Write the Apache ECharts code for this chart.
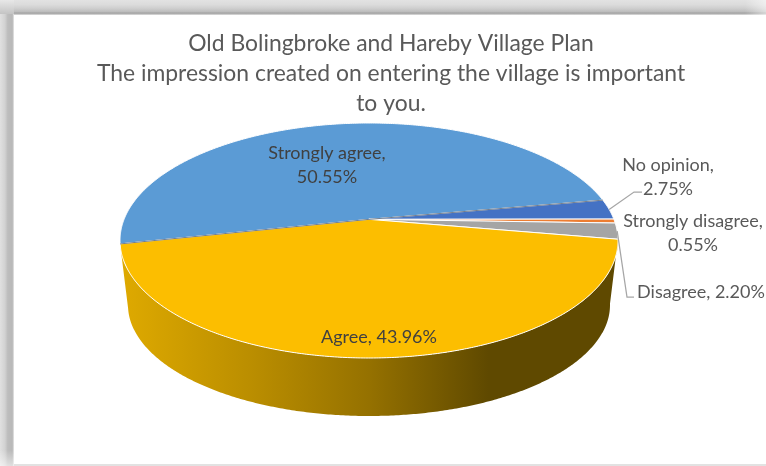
<!DOCTYPE html>
<html>
<head>
<meta charset="utf-8">
<style>
  html, body { margin: 0; padding: 0; background: #fff; }
  #chart { width: 766px; height: 466px; }
</style>
<script src="https://cdn.jsdelivr.net/npm/echarts@6/dist/echarts.min.js"></script>
</head>
<body>
<div id="chart"></div>
<script>
// ── Data ─────────────────────────────────────────────────────
const categories = ['Strongly agree', 'No opinion', 'Strongly disagree', 'Disagree', 'Agree'];
const shares     = [50.55, 2.75, 0.55, 2.20, 43.96];
const titleLines = [
  'Old Bolingbroke and Hareby Village Plan',
  'The impression created on entering the village is important',
  'to you.',
];

// ── Look ─────────────────────────────────────────────────────
const sliceColors = ['#5b9bd5', '#4472c4', '#ed7d31', '#a5a5a5', '#fcbe00'];
const FONT = 'Lato, "Open Sans", sans-serif';

// tilted disc: perspective maps the true centre above the ellipse centre
const TOP    = { cx: 369, cy: 240.5, rx: 249, ry: 117.5 };
const BOTTOM = { cx: 369, cy: 305,   rx: 241, ry: 111 };
const SKEW = 0.18;
const START_DEG = 258;   // clockwise from 12 o'clock

// label placement by category
const labelLayout = {
  'Strongly agree':    { x: 327, y: 165, wrap: true,  fill: '#404040' },
  'No opinion':        { x: 668, y: 177, wrap: true,  fill: '#595959' },
  'Strongly disagree': { x: 693, y: 233, wrap: true,  fill: '#595959' },
  'Disagree':          { x: 701, y: 292, wrap: false, fill: '#595959' },
  'Agree':             { x: 379, y: 337, wrap: false, fill: '#404040' },
};
const leaderElbows = {
  'No opinion': [[634, 192], [642, 192]],
  'Disagree':   [[627, 297], [634, 297]],
};

// ── Geometry helpers ─────────────────────────────────────────
function rimPoint(ell, deg) {
  const a = deg * Math.PI / 180;
  const X = Math.sin(a), Y = -Math.cos(a);
  const den = 1 - SKEW * Y;
  return [
    ell.cx + ell.rx * X * Math.sqrt(1 - SKEW * SKEW) / den,
    ell.cy + ell.ry * (Y - SKEW) / den,
  ];
}

function apex(ell) {
  return [ell.cx, ell.cy - ell.ry * SKEW];
}

function arcPoints(ell, from, to) {
  const pts = [];
  const steps = Math.max(4, Math.ceil((to - from) * 2));
  for (let i = 0; i <= steps; i++) pts.push(rimPoint(ell, from + (to - from) * i / steps));
  return pts;
}

const total = shares.reduce((a, b) => a + b, 0);

function sliceRange(idx) {
  let before = 0;
  for (let i = 0; i < idx; i++) before += shares[i];
  return [START_DEG + before / total * 360, START_DEG + (before + shares[idx]) / total * 360];
}

// ── Slice renderer ───────────────────────────────────────────
function renderSlice(params, api) {
  const idx = params.dataIndex;
  const value = api.value(1);
  const name = categories[idx];
  const [from, to] = sliceRange(idx);
  const layout = labelLayout[name];
  const children = [];
  const c = apex(TOP);

  // the side wall only shows under the slice facing the viewer
  if (from < 540 && to > 540) {
    children.push({
      type: 'polygon',
      shape: { points: arcPoints(TOP, from, to).concat(arcPoints(BOTTOM, from, to).reverse()) },
      style: {
        fill: new echarts.graphic.LinearGradient(0, 0, 1, 0, [
          { offset: 0,    color: '#dfaa00' },
          { offset: 0.28, color: '#b88c00' },
          { offset: 0.5,  color: '#957100' },
          { offset: 0.74, color: '#5f4900' },
          { offset: 1,    color: '#5f4900' },
        ]),
      },
    });
  }

  children.push({
    type: 'polygon',
    shape: { points: [c].concat(arcPoints(TOP, from, to)) },
    style: { fill: sliceColors[idx], stroke: '#fff', lineWidth: 1, lineJoin: 'round' },
  });

  // dark hairline along both edges of the largest slice
  if (value === Math.max(...shares)) {
    [from, to].forEach(deg => {
      children.push({
        type: 'line',
        shape: { x1: c[0], y1: c[1], x2: rimPoint(TOP, deg)[0], y2: rimPoint(TOP, deg)[1] },
        style: { stroke: 'rgba(68,84,106,0.75)', lineWidth: 1 },
        z2: 5,
      });
    });
  }

  if (leaderElbows[name]) {
    children.push({
      type: 'polyline',
      shape: { points: [rimPoint(TOP, (from + to) / 2)].concat(leaderElbows[name]) },
      style: { stroke: '#a6a6a6', lineWidth: 1.25, fill: 'none' },
      z2: 6,
    });
  }

  const sep = layout.wrap ? ',\n' : ', ';
  children.push({
    type: 'text',
    z2: 10,
    style: {
      text: name + sep + value.toFixed(2) + '%',
      x: layout.x, y: layout.y,
      align: 'center', verticalAlign: 'middle',
      fill: layout.fill,
      font: '18px ' + FONT,
      lineHeight: 23.5,
    },
  });

  return { type: 'group', children };
}

// ── Chart ────────────────────────────────────────────────────
const chart = echarts.init(document.getElementById('chart'), null, { renderer: 'canvas' });

function band(x, y, w, h, vertical, stops) {
  return {
    type: 'rect', silent: true,
    shape: { x, y, width: w, height: h },
    style: { fill: new echarts.graphic.LinearGradient(0, 0, vertical ? 0 : 1, vertical ? 1 : 0, stops) },
  };
}

chart.setOption({
  animation: false,
  backgroundColor: '#fff',
  title: {
    text: titleLines.join('\n'),
    left: 386, top: 24, textAlign: 'center',
    textStyle: { fontFamily: FONT, fontSize: 22.9, fontWeight: 'normal', color: '#595959', lineHeight: 30 },
  },
  graphic: [
    // picture-frame shadow on the top and left edges
    band(0, 0, 766, 15, true, [
      { offset: 0,    color: '#e2e2e2' },
      { offset: 0.3,  color: '#dcdcdc' },
      { offset: 0.55, color: '#cfcfcf' },
      { offset: 0.78, color: '#bdbdbd' },
      { offset: 0.86, color: '#a6a6a6' },
      { offset: 0.93, color: '#b0b0b0' },
      { offset: 1,    color: '#ebebeb' },
    ]),
    band(0, 0, 14, 466, false, [
      { offset: 0,    color: '#e0e0e0' },
      { offset: 0.35, color: '#d2d2d2' },
      { offset: 0.55, color: '#bdbdbd' },
      { offset: 0.88, color: '#b8b8b8' },
      { offset: 1,    color: '#e8e8e8' },
    ]),
    band(0, 0, 14, 14, true, [
      { offset: 0, color: '#e8e8e8' },
      { offset: 1, color: '#c4c4c4' },
    ]),
    band(0, 450, 14, 16, true, [
      { offset: 0, color: 'rgba(255,255,255,0)' },
      { offset: 1, color: 'rgba(255,255,255,0.55)' },
    ]),
    band(745, 0, 21, 15, false, [
      { offset: 0, color: 'rgba(255,255,255,0)' },
      { offset: 1, color: 'rgba(255,255,255,0.5)' },
    ]),
    band(14, 464, 752, 2, true, [
      { offset: 0, color: '#e2e2e2' },
      { offset: 1, color: '#e2e2e2' },
    ]),
  ],
  series: [{
    type: 'custom',
    coordinateSystem: 'none',
    data: shares.map((v, i) => [i, v]),
    renderItem: renderSlice,
    silent: true,
  }],
});
</script>
</body>
</html>
